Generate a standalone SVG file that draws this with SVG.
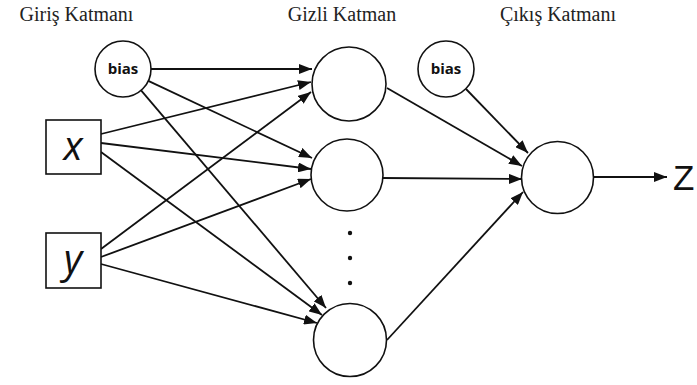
<svg xmlns="http://www.w3.org/2000/svg" width="697" height="385" viewBox="0 0 697 385">
<style>
.title{font-family:"Liberation Serif","Times New Roman",serif;font-size:20px;fill:#222;text-anchor:middle}
.node{fill:#fff;stroke:#111;stroke-width:1.6}
.bias{font-family:"Open Sans","DejaVu Sans",sans-serif;font-weight:bold;font-size:15px;fill:#111;text-anchor:middle}
.var{font-family:"Open Sans","Liberation Sans",sans-serif;font-style:italic;font-size:40px;fill:#111;text-anchor:middle}
.edge{stroke:#111;stroke-width:1.8;fill:none;marker-end:url(#arr)}
.dot{fill:#111}
</style>
<defs>
<marker id="arr" markerUnits="userSpaceOnUse" markerWidth="13" markerHeight="10" refX="13" refY="5" orient="auto">
<path d="M0,0 L13,5 L0,10 z" fill="#111"/>
</marker>
</defs>
<rect width="697" height="385" fill="#fff"/>
<g id="titles">
<text class="title" x="76.5" y="21">Giriş Katmanı</text>
<text class="title" x="342" y="21">Gizli Katman</text>
<text class="title" x="558" y="21">Çıkış Katmanı</text>
</g>
<g id="connectors">
<line class="edge" x1="151" y1="69" x2="312" y2="69"/>
<line class="edge" x1="148.3" y1="80.9" x2="312" y2="158"/>
<line class="edge" x1="141.1" y1="90.3" x2="326" y2="308"/>
<line class="edge" x1="101" y1="134" x2="311" y2="82"/>
<line class="edge" x1="101" y1="143" x2="311" y2="169"/>
<line class="edge" x1="101" y1="152" x2="322" y2="315"/>
<line class="edge" x1="101" y1="249" x2="311" y2="92"/>
<line class="edge" x1="101" y1="257" x2="311" y2="179"/>
<line class="edge" x1="101" y1="264" x2="317" y2="323"/>
<line class="edge" x1="387" y1="88" x2="522" y2="166"/>
<line class="edge" x1="382" y1="178" x2="522" y2="179"/>
<line class="edge" x1="387" y1="340" x2="523" y2="192"/>
<line class="edge" x1="466" y1="89" x2="528" y2="153"/>
<line class="edge" x1="593" y1="177" x2="667" y2="177"/>
</g>
<g id="bias-in">
<circle class="node" cx="123" cy="69" r="28"/>
<text class="bias" x="123" y="74">bias</text>
</g>
<g id="input-x">
<rect class="node" x="46" y="120" width="55" height="54"/>
<text class="var" x="73" y="160">x</text>
</g>
<g id="input-y">
<rect class="node" x="46" y="233" width="55" height="55"/>
<text class="var" x="73" y="273">y</text>
</g>
<g id="hidden-1"><circle class="node" cx="349" cy="84" r="37"/></g>
<g id="hidden-2"><circle class="node" cx="347" cy="175" r="36"/></g>
<g id="hidden-3"><circle class="node" cx="350" cy="340" r="36.5"/></g>
<g id="ellipsis">
<circle class="dot" cx="350" cy="233" r="2.2"/>
<circle class="dot" cx="350" cy="258" r="2.2"/>
<circle class="dot" cx="350" cy="283" r="2.2"/>
</g>
<g id="bias-hidden">
<circle class="node" cx="446" cy="69" r="28"/>
<text class="bias" x="446" y="74">bias</text>
</g>
<g id="output"><circle class="node" cx="557.5" cy="177.5" r="36"/></g>
<g id="output-z">
<text x="673" y="190" font-family="Liberation Sans, Arial, sans-serif" font-size="35" fill="#111">Z</text>
</g>
</svg>
